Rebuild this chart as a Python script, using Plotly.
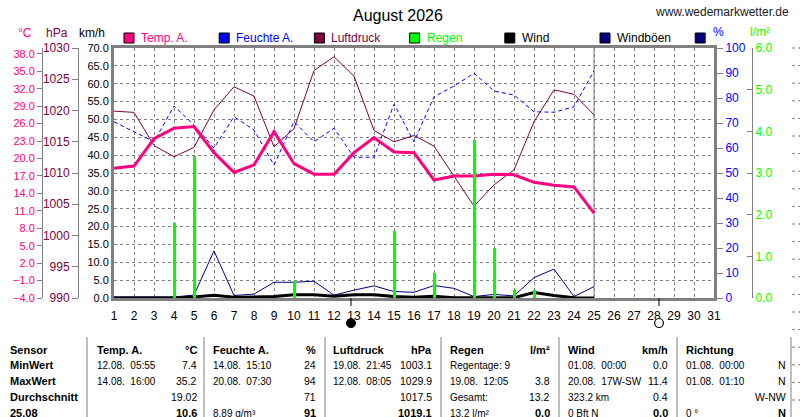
import plotly.graph_objects as go

W, H = 800, 417

# ---- data ----
days = list(range(1, 26))
temp = [18.3, 18.7, 23.4, 25.2, 25.5, 21.0, 17.6, 18.9, 24.6, 19.1, 17.3, 17.3,
        21.0, 23.6, 21.1, 21.0, 16.3, 17.0, 17.0, 17.3, 17.2, 15.9, 15.4, 15.1, 10.6]
humidity = [70.5, 66.5, 62.5, 76.8, 69.2, 60.0, 72.5, 67.2, 53.2, 70.5, 62.5, 67.9,
            56.3, 56.3, 77.5, 62.5, 80.5, 84.8, 89.9, 82.8, 81.2, 74.5, 74.3, 76.5, 90.9]
pressure = [1019.9, 1019.7, 1014.4, 1012.6, 1014.1, 1020.1, 1023.8, 1022.3, 1014.2,
            1017.1, 1026.4, 1028.6, 1025.5, 1016.8, 1015.0, 1016.0, 1014.3, 1009.5,
            1004.7, 1008.1, 1010.5, 1018.2, 1023.3, 1022.6, 1019.3]
rain = [0, 0, 0, 1.8, 3.4, 0, 0, 0, 0, 0.4, 0, 0, 0, 0, 1.6, 0, 0.6, 0, 3.8, 1.2,
        0.2, 0.2, 0, 0, 0]
wind = [0.0, 0.0, 0.0, 0.0, 0.3, 0.8, 0.2, 0.2, 0.4, 0.9, 0.9, 0.5, 0.9, 0.9, 0.4,
        0.2, 0.5, 0.1, 0.0, 0.1, 0.1, 1.5, 0.7, 0.1, 0.0]
gusts = [0.3, 0.3, 0.3, 0.3, 0.8, 13.2, 0.7, 1.1, 4.4, 4.4, 4.7, 0.8, 2.2, 3.4, 1.8,
         1.6, 3.5, 2.7, 0.4, 1.0, 0.6, 5.7, 8.1, 0.4, 3.2]
today = 25
month_days = list(range(1, 32))
moon_days = [12.85, 28.25]
moon_filled = [True, False]   # new moon, full moon

temp_ticks = list(range(-4, 39, 3))

# table text
table_head = ["Sensor", ("Temp. A.", "°C"), ("Feuchte A.", "%"), ("Luftdruck", "hPa"),
              ("Regen", "l/m²"), ("Wind", "km/h"), ("Richtung", "")]
table_rows = [
    ["MinWert", ("12.08.\u00a0 05:55", "7.4"), ("14.08.\u00a0 15:10", "24"),
     ("19.08.\u00a0 21:45", "1003.1"), ("Regentage: 9", ""), ("01.08.\u00a0 00:00", "0.0"),
     ("01.08.\u00a0 00:00", "N")],
    ["MaxWert", ("14.08.\u00a0 16:00", "35.2"), ("20.08.\u00a0 07:30", "94"),
     ("12.08.\u00a0 08:05", "1029.9"), ("19.08.\u00a0 12:05", "3.8"),
     ("20.08.\u00a0 17W-SW", "11.4"), ("01.08.\u00a0 01:10", "N")],
    ["Durchschnitt", ("", "19.02"), ("", "71"), ("", "1017.5"), ("Gesamt:", "13.2"),
     ("323.2 km", "0.4"), ("", "W-NW")],
    ["25.08", ("", "10.6"), ("8.89 g/m³", "91"), ("", "1019.1"), ("13.2 l/m²", "0.0"),
     ("0 Bft N", "0.0"), ("0 °", "N")],
]

TEMP_C = "#FF0080"
HUM_C = "#0000FF"
PRESS_C = "#800040"
RAIN_C = "#00FF00"
WIND_C = "#000000"
GUST_C = "#000080"
GRID_C = "#808080"
FONT = "Liberation Sans, Arial, sans-serif"


def fx(x):
    return x / W


def fy(y):
    return 1 - y / H


fig = go.Figure()

# wind + gusts on km/h axis
fig.add_trace(go.Scatter(x=days, y=gusts, yaxis="y", mode="lines",
                         line=dict(color=GUST_C, width=1)))
fig.add_trace(go.Scatter(x=days, y=wind, yaxis="y", mode="lines",
                         line=dict(color=WIND_C, width=3)))
# pressure
fig.add_trace(go.Scatter(x=days, y=pressure, yaxis="y2", mode="lines",
                         line=dict(color=PRESS_C, width=1)))
# humidity
fig.add_trace(go.Scatter(x=days, y=humidity, yaxis="y3", mode="lines",
                         line=dict(color=HUM_C, width=1, dash="4px,3px")))
# temperature
fig.add_trace(go.Scatter(x=days, y=temp, yaxis="y4", mode="lines",
                         line=dict(color=TEMP_C, width=3)))
# rain
fig.add_trace(go.Bar(x=days, y=rain, yaxis="y5", width=0.15,
                     marker=dict(color=RAIN_C, line=dict(width=0))))

ydom = [fy(298), fy(48)]
fig.update_layout(
    width=W, height=H, margin=dict(l=0, r=0, t=0, b=0),
    paper_bgcolor="white", plot_bgcolor="white", showlegend=False,
    font=dict(family=FONT, size=11, color="black"),
    bargap=0,
    xaxis=dict(domain=[fx(114), fx(714)], range=[1, 31], tickvals=month_days,
               showgrid=True, griddash="3px,3px", gridcolor=GRID_C, gridwidth=1,
               showline=True, linewidth=3, linecolor=GRID_C, mirror=True,
               ticks="", ticklabelstandoff=5, tickfont=dict(size=12),
               zeroline=False, automargin=False),
    yaxis=dict(domain=ydom, range=[0, 70], dtick=5, tickformat=".1f",
               showgrid=True, griddash="3px,3px", gridcolor=GRID_C, gridwidth=1,
               showline=True, linewidth=3, linecolor=GRID_C, mirror=True,
               ticks="", tickfont=dict(size=11), zeroline=False, automargin=False),
    yaxis2=dict(overlaying="y", anchor="free", position=fx(78), side="left",
                range=[990, 1030], dtick=5, tickformat="d", showgrid=False,
                showline=True, linewidth=1, linecolor=GRID_C, ticks="outside",
                ticklen=6, tickcolor=GRID_C, tickfont=dict(color=PRESS_C, size=12),
                zeroline=False, automargin=False),
    yaxis3=dict(overlaying="y", anchor="x", side="right", range=[0, 100], dtick=10,
                showgrid=False, showline=True, linewidth=3, linecolor=GRID_C,
                ticks="outside", ticklen=6, tickcolor=GRID_C,
                tickfont=dict(color=HUM_C, size=12), zeroline=False, automargin=False),
    yaxis4=dict(overlaying="y", anchor="free", position=fx(42), side="left",
                range=[-4, 39], tickvals=temp_ticks, tickformat=".1f", showgrid=False,
                showline=True, linewidth=1, linecolor=GRID_C, ticks="outside",
                ticklen=5, tickcolor=GRID_C, tickfont=dict(color=TEMP_C, size=11),
                zeroline=False, automargin=False),
    yaxis5=dict(overlaying="y", anchor="free", position=fx(752), side="right",
                range=[0, 6], dtick=1, tickformat=".1f", showgrid=False,
                showline=True, linewidth=1, linecolor=GRID_C, ticks="inside",
                ticklen=5, tickcolor=GRID_C, tickfont=dict(color=RAIN_C, size=12),
                zeroline=False, automargin=False),
)

shapes = []
annotations = []

# current day marker
shapes.append(dict(type="line", xref="x", yref="paper", x0=today, x1=today,
                   y0=ydom[0], y1=ydom[1], line=dict(color=GRID_C, width=1),
                   layer="between"))

# moon phases below the axis
for d, filled in zip(moon_days, moon_filled):
    shapes.append(dict(type="line", xref="x", yref="paper", x0=d, x1=d,
                       y0=fy(298), y1=fy(306), line=dict(color="black", width=1)))
    shapes.append(dict(type="circle", xref="x", yref="paper", x0=d - 0.22, x1=d + 0.22,
                       y0=fy(327.5), y1=fy(318.5),
                       fillcolor="black" if filled else "white",
                       line=dict(color="black", width=1.2)))


def text(x, y, s, color="black", size=11, anchor="left", bold=False):
    if bold:
        s = "<b>" + s + "</b>"
    annotations.append(dict(x=fx(x), y=fy(y), xref="paper", yref="paper", text=s,
                            showarrow=False, xanchor=anchor, yanchor="middle",
                            font=dict(color=color, size=size, family=FONT)))


# titles
text(398, 15, "August 2026", size=16, anchor="center")
text(722, 12, "www.wedemarkwetter.de", color="#202020", size=12, anchor="center")
text(25, 33, "°C", color=TEMP_C, size=12, anchor="center")
text(57, 33, "hPa", color=PRESS_C, size=12, anchor="center")
text(92, 33, "km/h", size=12, anchor="center")
text(718, 32, "%", color=HUM_C, size=12, anchor="center")
text(760, 32, "l/m²", color=RAIN_C, size=12, anchor="center")

# legend
legend_items = [("Temp. A.", TEMP_C, TEMP_C), ("Feuchte A.", HUM_C, HUM_C),
                ("Luftdruck", PRESS_C, PRESS_C), ("Regen", RAIN_C, RAIN_C),
                ("Wind", WIND_C, "black"), ("Windböen", GUST_C, "black"),
                ("", GUST_C, "black")]
for i, (name, col, tcol) in enumerate(legend_items):
    x0 = 124 + i * 95.2
    shapes.append(dict(type="rect", xref="paper", yref="paper", x0=fx(x0), x1=fx(x0 + 10),
                       y0=fy(43), y1=fy(33), fillcolor=col, line=dict(color="black", width=1)))
    if name:
        text(x0 + 15, 38, name, color=tcol, size=12)

# bottom table
col_left = [8, 95, 211, 331, 448, 566, 684]
col_right = [None, 199, 318, 434, 552, 670, 788]
seps = [87, 204, 325, 441, 559, 677, 791]
row_y = [350, 365, 381, 397, 413]
for sx in seps:
    shapes.append(dict(type="line", xref="paper", yref="paper", x0=fx(sx), x1=fx(sx),
                       y0=fy(337), y1=0, line=dict(color=GRID_C, width=1)))
for ri, row in enumerate([table_head] + table_rows):
    y = row_y[ri]
    for ci, cell in enumerate(row):
        if ci == 0:
            text(col_left[0], y, cell, bold=True, size=11)
            continue
        left, right = cell
        if left:
            text(col_left[ci], y, left, bold=(ri == 0), size=11 if ri == 0 else 10)
        if right:
            text(col_right[ci], y, right, anchor="right", bold=(ri == 0 or ri == 4),
                 size=11 if ri in (0, 4) else 10.5)

# edge of the neighbouring chart
yy = 48
while yy < H:
    shapes.append(dict(type="line", xref="paper", yref="paper", x0=fx(792), x1=1,
                       y0=fy(yy), y1=fy(yy), line=dict(color=GRID_C, width=1, dash="3px,3px")))
    yy += 17.6

fig.update_layout(shapes=shapes, annotations=annotations)
fig.write_html("out.html", config={"displayModeBar": False},
               post_script="document.body.style.margin='0';")
